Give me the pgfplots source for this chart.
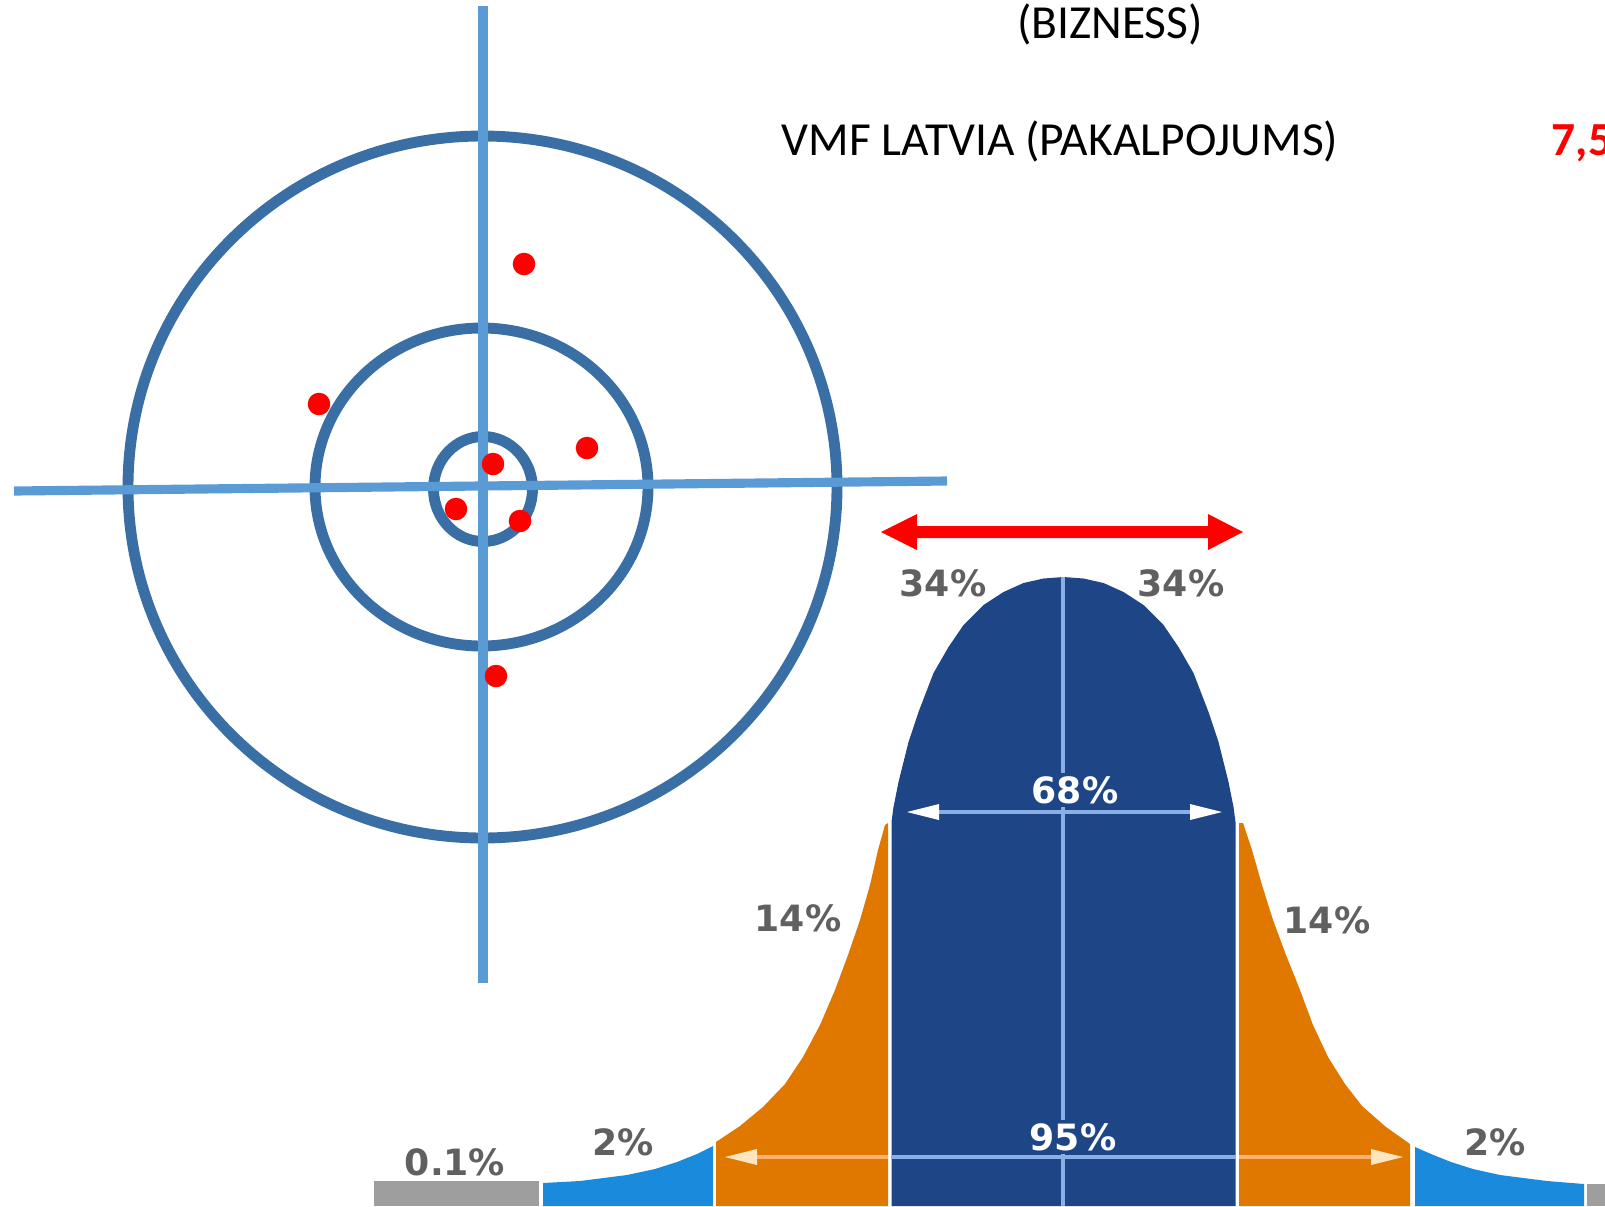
\documentclass[border=0pt]{standalone}
\usepackage{pgfplots}
\pgfplotsset{compat=1.18}
\usepackage{fontspec}
\setmainfont{Carlito}
\newfontfamily\vfont{DejaVu Sans}
\definecolor{ring}{HTML}{3A6FA6}
\definecolor{cross}{HTML}{5B9BD5}
\definecolor{dblue}{HTML}{1E4687}
\definecolor{orng}{HTML}{E07800}
\definecolor{tblue}{HTML}{1A8ADC}
\definecolor{lgray}{HTML}{9E9E9E}
\definecolor{lblue}{HTML}{8AAEE6}
\definecolor{lorng}{HTML}{FFB070}
\definecolor{cream}{HTML}{FFE6C0}
\definecolor{labgray}{HTML}{606060}
\begin{document}
\begin{tikzpicture}
\useasboundingbox (0,0) rectangle (16.05cm,12.06cm);
\clip (0,0) rectangle (16.05cm,12.06cm);
\begin{axis}[at={(0,0)}, anchor=south west, scale only axis,
  width=16.05cm, height=12.06cm, xmin=0, xmax=1605, ymin=0, ymax=1206,
  y dir=reverse, axis lines=none, clip=false]
% target rings
\draw[ring, line width=3.1pt] (axis cs:482.5,487) ellipse [x radius=354.5, y radius=351];
\draw[ring, line width=3.1pt] (axis cs:481.5,487) ellipse [x radius=166.5, y radius=159];
\draw[ring, line width=3.1pt] (axis cs:483,489) ellipse [x radius=49.5, y radius=52.5];
% cross
\addplot[cross, line width=2.6pt] coordinates {(483,6) (483,983)};
\addplot[cross, line width=2.6pt] coordinates {(14,491) (947,481)};
% shots
\addplot[only marks, mark=*, mark size=3pt, color=red] coordinates {(524,264) (319,404) (587,448) (493,464) (456,509) (520,521) (496,676)};
% top texts
\node[anchor=base west, inner sep=0pt, font=\fontsize{13.5}{16}\selectfont] at (axis cs:781,155) {VMF LATVIA (PAKALPOJUMS)};
\node[anchor=base, inner sep=0pt, font=\fontsize{13.5}{16}\selectfont] at (axis cs:1110,38) {(BIZNESS)};
\node[anchor=base west, inner sep=0pt, text=red, font=\fontsize{13.5}{16}\selectfont\bfseries] at (axis cs:1551,155) {7,5};
% red double arrow
\addplot[fill=red, draw=none] coordinates {(881,532) (917,514) (917,526) (1208,526) (1208,514) (1243,532) (1208,550) (1208,538) (917,538) (917,550)} -- cycle;
% bell curve: gray tails
\addplot[fill=lgray, draw=none] coordinates {(374,1181) (539,1181) (539,1206) (374,1206)} -- cycle;
\addplot[fill=lgray, draw=none] coordinates {(1587,1184) (1610,1184) (1610,1206) (1587,1206)} -- cycle;
% blue tails
\addplot[fill=tblue, draw=none] coordinates {(543,1206) (543,1183) (580,1181) (627,1175) (655,1169) (677,1162) (697,1154) (713,1146) (713,1206)} -- cycle;
\addplot[fill=tblue, draw=none] coordinates {(1415,1206) (1415,1147) (1431,1154) (1451,1162) (1473,1169) (1500,1175) (1547,1181) (1584,1184) (1584,1206)} -- cycle;
% orange
\addplot[fill=orng, draw=none] coordinates {(716,1206) (716,1142) (740,1126) (763,1107) (785,1084) (803,1057) (820,1025) (835,990) (848,955) (860,920) (870,885) (878,850) (885,825) (888,823) (888,1206)} -- cycle;
\addplot[fill=orng, draw=none] coordinates {(1410,1206) (1410,1144) (1386,1127) (1362,1106) (1345,1084) (1328,1057) (1313,1025) (1300,990) (1286,955) (1273,920) (1262,885) (1252,850) (1243,823) (1239,823) (1239,1206)} -- cycle;
% central dark blue
\addplot[fill=dblue, draw=none] coordinates {(891.5,1206) (891.5,822) (893.5,807) (898.5,782) (908.5,742) (918.5,712) (933.5,673) (948.5,647) (963.5,625) (983.5,605) (1003.5,592) (1023.5,583) (1043.5,578.5) (1063.5,577) (1083.5,578.5) (1103.5,583) (1123.5,592) (1143.5,605) (1163.5,625) (1178.5,647) (1193.5,673) (1208.5,712) (1218.5,742) (1228.5,782) (1233.5,807) (1235.5,822) (1235.5,1206)} -- cycle;
% center vertical line
\addplot[lblue, line width=1.4pt] coordinates {(1063,577) (1063,1206)};
% 68% arrow
\addplot[lblue, line width=1.4pt] coordinates {(935,812) (1195,812)};
\addplot[fill=white, draw=none] coordinates {(907,812) (939,804) (939,820)} -- cycle;
\addplot[fill=white, draw=none] coordinates {(1222,812) (1190,804) (1190,820)} -- cycle;
% 95% arrow
\addplot[lorng, line width=1.4pt] coordinates {(750,1157) (888,1157)};
\addplot[lblue, line width=1.4pt] coordinates {(891,1157) (1236,1157)};
\addplot[lorng, line width=1.4pt] coordinates {(1239,1157) (1378,1157)};
\addplot[fill=cream, draw=none] coordinates {(725,1157) (757,1149) (757,1165)} -- cycle;
\addplot[fill=cream, draw=none] coordinates {(1403,1157) (1371,1149) (1371,1165)} -- cycle;
% labels
\node[text=labgray, inner sep=0pt, font=\vfont\bfseries\fontsize{10.3}{12}\selectfont] at (axis cs:943,583) {34\%};
\node[text=labgray, inner sep=0pt, font=\vfont\bfseries\fontsize{10.3}{12}\selectfont] at (axis cs:1181,583) {34\%};
\node[text=labgray, inner sep=0pt, font=\vfont\bfseries\fontsize{10.3}{12}\selectfont] at (axis cs:798,918) {14\%};
\node[text=labgray, inner sep=0pt, font=\vfont\bfseries\fontsize{10.3}{12}\selectfont] at (axis cs:1327,920) {14\%};
\node[text=labgray, inner sep=0pt, font=\vfont\bfseries\fontsize{10.3}{12}\selectfont] at (axis cs:623,1142) {2\%};
\node[text=labgray, inner sep=0pt, font=\vfont\bfseries\fontsize{10.3}{12}\selectfont] at (axis cs:1495,1142) {2\%};
\node[text=labgray, inner sep=0pt, font=\vfont\bfseries\fontsize{10.3}{12}\selectfont] at (axis cs:455,1162) {0.1\%};
\node[text=white, fill=dblue, inner sep=1pt, font=\vfont\bfseries\fontsize{10.3}{12}\selectfont] at (axis cs:1075,790) {68\%};
\node[text=white, fill=dblue, inner sep=1pt, font=\vfont\bfseries\fontsize{10.3}{12}\selectfont] at (axis cs:1073,1137) {95\%};
\end{axis}
\end{tikzpicture}
\end{document}
